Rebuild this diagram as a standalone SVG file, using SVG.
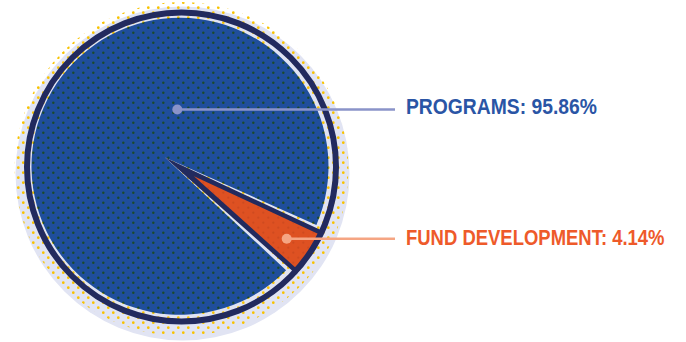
<svg xmlns="http://www.w3.org/2000/svg" width="686" height="342" viewBox="0 0 686 342">
  <defs>
    <pattern id="blueDots" patternUnits="userSpaceOnUse" width="10" height="10">
      <rect width="10" height="10" fill="#1f4e9c"/>
      <circle cx="3.3" cy="2.7" r="1.25" fill="#1a4a2e"/>
      <circle cx="8.3" cy="7.7" r="1.25" fill="#1a4a2e"/>
    </pattern>
    <pattern id="orangeDots" patternUnits="userSpaceOnUse" width="10" height="10">
      <rect width="10" height="10" fill="#de5122"/>
      <circle cx="3.3" cy="2.7" r="1.15" fill="#cf4a1f"/>
      <circle cx="8.3" cy="7.7" r="1.15" fill="#cf4a1f"/>
    </pattern>
    <pattern id="yellowDots" patternUnits="userSpaceOnUse" width="10" height="10">
      <circle cx="3.3" cy="2.7" r="1.35" fill="#f8c300"/>
      <circle cx="8.3" cy="7.7" r="1.35" fill="#f8c300"/>
    </pattern>
    <style>
      .label { font-family: "Liberation Sans", Arial, sans-serif; font-weight: bold; font-size: 22px; }
      .navy { fill: #222a5e; }
    </style>
  </defs>

  <g id="background">
    <circle cx="182.5" cy="173.5" r="167" fill="#e1e4f3"/>
    <circle cx="181.5" cy="169" r="167" fill="url(#yellowDots)"/>
  </g>

  <g id="programs">
    <path d="M165 157.5 L286.1 270.2 A148.5 148.5 0 1 1 316.4 225.0 Z" fill="url(#blueDots)"/>
  </g>

  <g id="fund-development">
    <path class="navy" d="M165 157.5 L324.5 231.8 L296.5 274.5 Z"/>
    <path d="M194 176.2 L321.6 235.5 L298.7 270.5 Z" fill="url(#orangeDots)"/>
  </g>

  <g id="ring">
    <circle cx="181.5" cy="167" r="154.5" fill="none" stroke="#222a5e" stroke-width="6"/>
  </g>

  <g id="connectors">
    <line x1="177.3" y1="109.5" x2="395" y2="109.5" stroke="#8a93c9" stroke-width="2.5"/>
    <circle cx="177.3" cy="109.5" r="5" fill="#8a93c9"/>
    <line x1="286.7" y1="238.8" x2="395" y2="238.8" stroke="#f5a583" stroke-width="2.5"/>
    <circle cx="286.7" cy="238.8" r="5" fill="#f5a583"/>
  </g>

  <g id="labels">
    <text class="label" transform="translate(406,114.3) scale(0.878,1)" x="0" y="0" fill="#2a55a5">PROGRAMS: 95.86%</text>
    <text class="label" transform="translate(406,245) scale(0.84,1)" x="0" y="0" fill="#ee5a2a">FUND DEVELOPMENT: 4.14%</text>
  </g>
</svg>
